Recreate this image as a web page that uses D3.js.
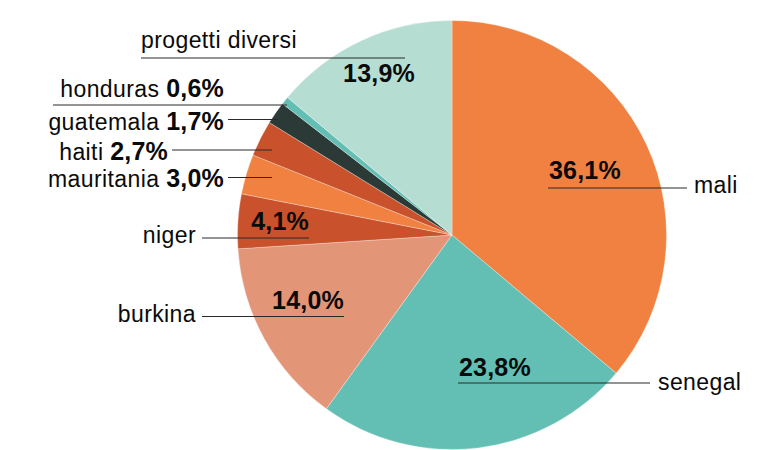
<!DOCTYPE html>
<html lang="it">
<head>
  <meta charset="UTF-8">
  <title></title>
  <style>
    html, body {
      margin: 0;
      overflow: hidden;
      width: 100%;
      height: 100%;
      background: white;
    }
    svg {
      position: absolute;
      top: 0;
      left: 0;
      width: 780px;
      height: 450px;
      font-family: "Liberation Sans", Arial, sans-serif;
    }
  </style>
</head>
<body>
  <svg></svg>
</body>
<script src="https://d3js.org/d3.v7.min.js"></script>
<script type="text/javascript">
  // data, clockwise from 12 o'clock
  const categories = ['mali', 'senegal', 'burkina', 'niger', 'mauritania', 'haiti', 'guatemala', 'honduras', 'progetti diversi']
  const values = [36.1, 23.8, 14.0, 4.1, 3.0, 2.7, 1.7, 0.6, 13.9]
  const colors = ['#f08141', '#63bfb4', '#e39578', '#c9512b', '#f08141', '#c9512b', '#2b3a36', '#63bfb4', '#b6ddd1']

  const svg = d3.select('svg')
  const center = { x: 452, y: 235 }
  const radius = 214.5

  const fmt = v => d3.format('.1f')(v).replace('.', ',') + '%'

  const pie = d3.pie().sort(null).value(d => d.value)
  const arc = d3.arc().innerRadius(0).outerRadius(radius)

  const rows = categories.map((c, i) => ({ name: c, value: values[i], color: colors[i] }))

  svg.append('g')
    .attr('transform', `translate(${center.x},${center.y})`)
    .selectAll('path')
    .data(pie(rows))
    .enter()
    .append('path')
    .attr('d', arc)
    .attr('fill', d => d.data.color)
    .attr('stroke', '#fff')
    .attr('stroke-width', 0.6)
    .attr('stroke-opacity', 0.5)

  // label layout (annotation placement)
  // 'split': name beside the leader line, pct above the line inside the slice
  // 'inline': "name pct" in one text, leader line to the slice
  const layout = {
    'mali':       { type: 'split', line: [548, 687, 188], name: [694, 193, 'start'], pct: [549, 179, 'start'] },
    'senegal':    { type: 'split', line: [458, 650, 383], name: [658, 390, 'start'], pct: [459, 376, 'start'] },
    'burkina':    { type: 'split', line: [202, 344, 316.5], name: [196, 322, 'end'], pct: [344, 309, 'end'] },
    'niger':      { type: 'split', line: [202, 309, 238], name: [196, 243, 'end'], pct: [309, 230, 'end'] },
    'mauritania': { type: 'inline', line: [228, 272, 177.5], text: [224, 187] },
    'haiti':      { type: 'inline', line: [172, 272, 150], text: [168, 159.5] },
    'guatemala':  { type: 'inline', line: [228, 278, 119.5], text: [224, 129.5] },
    'honduras':   { type: 'inline', line: [53, 287, 105], text: [224, 97] },
    'progetti diversi': { type: 'split', line: [141, 405, 58], name: [141, 47.5, 'start'], pct: [415, 81.5, 'end'] }
  }

  const nameSize = 23, pctSize = 25

  const labels = svg.append('g')

  rows.forEach(d => {
    const l = layout[d.name]
    labels.append('line')
      .attr('x1', l.line[0]).attr('x2', l.line[1])
      .attr('y1', l.line[2]).attr('y2', l.line[2])
      .attr('stroke', '#2a2a2a')
      .attr('stroke-width', 1.2)

    if (l.type === 'split') {
      labels.append('text')
        .attr('x', l.name[0]).attr('y', l.name[1])
        .attr('text-anchor', l.name[2])
        .attr('font-size', nameSize)
        .attr('letter-spacing', 0.4)
        .attr('fill', '#0a0a0a')
        .text(d.name)
      labels.append('text')
        .attr('x', l.pct[0]).attr('y', l.pct[1])
        .attr('text-anchor', l.pct[2])
        .attr('font-size', pctSize)
        .attr('font-weight', 'bold')
        .attr('letter-spacing', 0.2)
        .attr('fill', '#0a0a0a')
        .text(fmt(d.value))
    } else {
      const t = labels.append('text')
        .attr('x', l.text[0]).attr('y', l.text[1])
        .attr('text-anchor', 'end')
        .attr('fill', '#0a0a0a')
      t.append('tspan').attr('font-size', nameSize).attr('letter-spacing', 0.4).text(d.name + ' ')
      t.append('tspan').attr('font-size', pctSize).attr('letter-spacing', 0.2).attr('font-weight', 'bold').text(fmt(d.value))
    }
  })
</script>
</html>
